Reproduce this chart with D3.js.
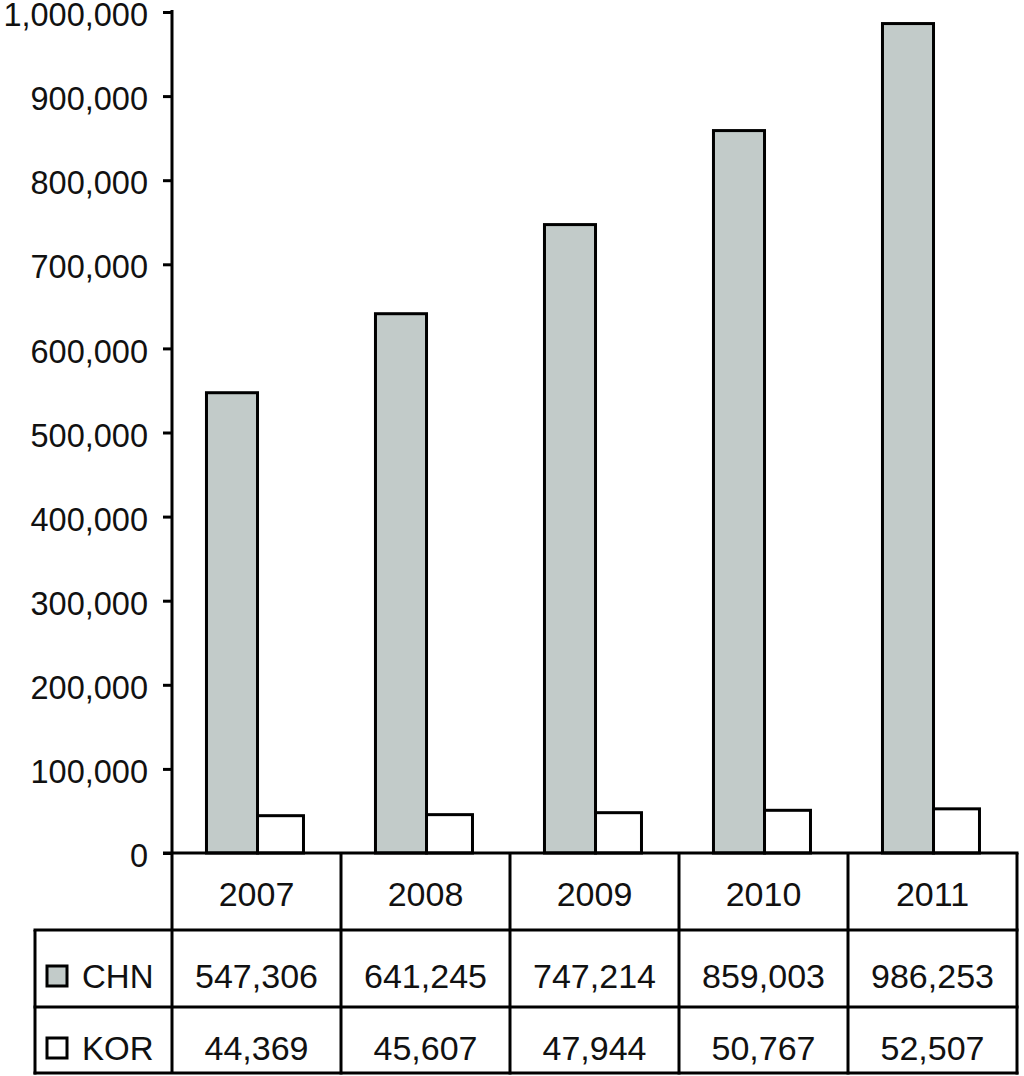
<!DOCTYPE html>
<html><head><meta charset="utf-8">
<script src="https://cdn.jsdelivr.net/npm/d3@7"></script>
<style>
html,body{margin:0;padding:0;background:#fff;}
svg{display:block;}
text{font-family:"Liberation Sans",Arial,sans-serif;fill:#111;}
</style></head>
<body>
<svg id="chart" width="1024" height="1076"></svg>
<script>
const years = ["2007","2008","2009","2010","2011"];
const seriesNames = ["CHN","KOR"];
const chnValues = [547306, 641245, 747214, 859003, 986253];
const korValues = [44369, 45607, 47944, 50767, 52507];
const yTicks = [0,100000,200000,300000,400000,500000,600000,700000,800000,900000,1000000];
const seriesColors = ["#c2cbc9","#ffffff"];

const svg = d3.select("#chart");
const axisX = 172, rightX = 1017;
const y0 = 853, yRow1 = 930, yRow2 = 1007, yBottom = 1073, tableLeft = 35;

const y = d3.scaleLinear().domain([0,1000000]).range([y0,12]);
const x = d3.scaleBand().domain(years).range([axisX,rightX]).paddingInner(0).paddingOuter(0);
const bw = x.bandwidth();
// sub-band positions for the two series inside each year band
const sub = d3.scaleOrdinal().domain(seriesNames).range([0.204, 0.506]);
const subW = d3.scaleOrdinal().domain(seriesNames).range([0.302, 0.272]);

// bars
const seriesVals = [chnValues, korValues];
seriesNames.forEach((s,si)=>{
  svg.append("g").selectAll("rect").data(years).join("rect")
    .attr("x", d=> x(d) + bw*sub(s))
    .attr("width", bw*subW(s))
    .attr("y", (d,i)=> y(seriesVals[si][i]))
    .attr("height", (d,i)=> y0 - y(seriesVals[si][i]))
    .attr("fill", seriesColors[si])
    .attr("stroke","#000").attr("stroke-width",3);
});

// y axis
const axis = d3.axisLeft(y).tickValues(yTicks).tickFormat(d3.format(",")).tickSize(9).tickPadding(15).tickSizeOuter(0);
const gA = svg.append("g").attr("transform",`translate(${axisX},0)`).call(axis);
gA.select(".domain").remove();
gA.selectAll(".tick line").attr("stroke","#000").attr("stroke-width",3);
gA.selectAll(".tick text").attr("font-size","32.5px").attr("dy","0.42em").attr("fill","#111")
  .style("font-family","'Liberation Sans',Arial,sans-serif");

// table lines
const L = svg.append("g").attr("stroke","#000").attr("stroke-width",3).attr("fill","none");
L.append("line").attr("x1",axisX).attr("x2",axisX).attr("y1",10).attr("y2",yBottom+1);
L.append("line").attr("x1",163).attr("x2",rightX+1.5).attr("y1",y0).attr("y2",y0);
[yRow1,yRow2,yBottom].forEach(yy=>{
  L.append("line").attr("x1",tableLeft-1.5).attr("x2",rightX+1.5).attr("y1",yy).attr("y2",yy);
});
L.append("line").attr("x1",tableLeft).attr("x2",tableLeft).attr("y1",yRow1).attr("y2",yBottom+1.5);
years.forEach(d=>{
  L.append("line").attr("x1",x(d)+bw).attr("x2",x(d)+bw).attr("y1",y0).attr("y2",yBottom+1.5);
});

// year labels
svg.append("g").selectAll("text").data(years).join("text")
  .attr("x", d=> x(d)+bw/2).attr("y", 906)
  .attr("text-anchor","middle").attr("font-size","34px").text(d=>d);

// values
const fmt = d3.format(",");
const rowBase = [988, 1060];
seriesNames.forEach((s,si)=>{
  svg.append("g").selectAll("text").data(years).join("text")
    .attr("x", d=> x(d)+bw/2).attr("y", rowBase[si])
    .attr("text-anchor","middle").attr("font-size","34px")
    .text((d,i)=> fmt(seriesVals[si][i]));
  // legend
  svg.append("rect").attr("x",47).attr("y",rowBase[si]-22).attr("width",20).attr("height",20)
    .attr("fill",seriesColors[si]).attr("stroke","#000").attr("stroke-width",3);
  svg.append("text").attr("x",82).attr("y",rowBase[si]).attr("font-size","33px").text(s);
});
</script>
</body></html>
